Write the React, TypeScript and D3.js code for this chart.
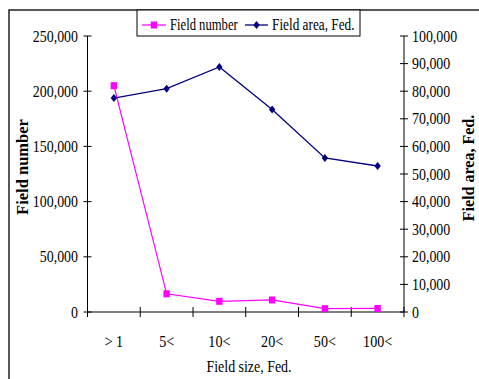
import React from "react";
import * as d3 from "d3";

const categories = ["> 1", "5<", "10<", "20<", "50<", "100<"];
const fieldNumber = [205000, 16500, 9700, 10900, 3000, 3200];
const fieldArea = [77500, 80900, 88800, 73400, 55800, 52900];
const leftTicks = [0, 50000, 100000, 150000, 200000, 250000];
const rightTicks = [0, 10000, 20000, 30000, 40000, 50000, 60000, 70000, 80000, 90000, 100000];

const W = 479;
const H = 379;
const FONT = "Liberation Serif, Times New Roman, Times, serif";
const PINK = "#FF00FF";
const NAVY = "#000080";

type TProps = {
  x: number;
  y: number;
  size: number;
  sx?: number;
  anchor?: "start" | "middle" | "end";
  rotate?: number;
  weight?: string;
  dy?: string;
  children: React.ReactNode;
};

function T({ x, y, size, sx = 1, anchor = "start", rotate = 0, weight = "normal", dy, children }: TProps) {
  return (
    <text
      transform={`translate(${x},${y}) rotate(${rotate}) scale(${sx},1)`}
      textAnchor={anchor}
      fontSize={size}
      fontWeight={weight}
      dy={dy}
      fill="#000"
    >
      {children}
    </text>
  );
}

export default function App() {
  const left = 87.5;
  const right = 404;
  const top = 36;
  const bottom = 312;

  const x = d3.scaleBand<string>().domain(categories).range([left, right]);
  const yL = d3.scaleLinear().domain([0, 250000]).range([bottom, top]);
  const yR = d3.scaleLinear().domain([0, 100000]).range([bottom, top]);
  const fmt = d3.format(",");
  const cx = (c: string) => (x(c) as number) + x.bandwidth() / 2;

  const lineL = d3
    .line<number>()
    .x((_, i) => cx(categories[i]))
    .y((d) => yL(d));
  const lineR = d3
    .line<number>()
    .x((_, i) => cx(categories[i]))
    .y((d) => yR(d));

  const boundaries = categories.map((c) => x(c) as number).concat([right]);

  const diamond = (px: number, py: number) =>
    `M${px},${py - 4} L${px + 3.2},${py} L${px},${py + 4} L${px - 3.2},${py} Z`;

  return (
    <svg
      width={W}
      height={H}
      style={{ position: "absolute", left: 0, top: 0, background: "#fff", fontFamily: FONT }}
    >
      <rect x={0} y={0} width={W} height={H} fill="#fff" />
      {/* outer frame */}
      <rect x={9} y={10} width={W} height={H} fill="none" stroke="#222" strokeWidth={1.5} />

      {/* left axis */}
      <line x1={left} x2={left} y1={top} y2={bottom} stroke="#000" strokeWidth={1} />
      {leftTicks.map((t) => (
        <g key={"l" + t}>
          <line x1={left - 4} x2={left + 4} y1={yL(t)} y2={yL(t)} stroke="#000" />
          <T x={78} y={yL(t)} dy="0.35em" anchor="end" size={16} sx={0.87}>
            {fmt(t)}
          </T>
        </g>
      ))}

      {/* right axis */}
      <line x1={right} x2={right} y1={top} y2={bottom} stroke="#000" strokeWidth={1} />
      {rightTicks.map((t) => (
        <g key={"r" + t}>
          <line x1={right - 4} x2={right + 4} y1={yR(t)} y2={yR(t)} stroke="#000" />
          <T x={412} y={yR(t)} dy="0.35em" anchor="start" size={16} sx={0.87}>
            {fmt(t)}
          </T>
        </g>
      ))}

      {/* x axis */}
      <line x1={left} x2={right} y1={bottom} y2={bottom} stroke="#000" strokeWidth={1.2} />
      {boundaries.map((b, i) => (
        <line key={"xt" + i} x1={b} x2={b} y1={bottom - 5} y2={bottom + 5} stroke="#000" />
      ))}
      {categories.map((c) => (
        <T key={"xl" + c} x={cx(c)} y={347} anchor="middle" size={16} sx={0.88}>
          {c}
        </T>
      ))}
      <T x={249} y={372} anchor="middle" size={16} sx={0.87}>
        Field size, Fed.
      </T>

      {/* axis titles */}
      <T x={28} y={167} rotate={-90} anchor="middle" size={16.5} weight="bold">
        Field number
      </T>
      <T x={474} y={168} rotate={-90} anchor="middle" size={16} weight="bold">
        Field area, Fed.
      </T>

      {/* series */}
      <path d={lineR(fieldArea) || ""} fill="none" stroke={NAVY} strokeWidth={1.3} />
      <path d={lineL(fieldNumber) || ""} fill="none" stroke={PINK} strokeWidth={1.2} />
      {fieldArea.map((v, i) => (
        <path key={"d" + i} d={diamond(cx(categories[i]), yR(v))} fill={NAVY} />
      ))}
      {fieldNumber.map((v, i) => (
        <rect
          key={"s" + i}
          x={cx(categories[i]) - 3.2}
          y={yL(v) - 3.5}
          width={6.4}
          height={7}
          fill={PINK}
        />
      ))}

      {/* legend */}
      <rect x={137} y={10} width={223} height={26} fill="#fff" stroke="#000" strokeWidth={1} />
      <line x1={142} x2={166} y1={25} y2={25} stroke={PINK} strokeWidth={1.2} />
      <rect x={150.8} y={21.5} width={6.4} height={7} fill={PINK} />
      <T x={170} y={30} size={16} sx={0.79}>
        Field number
      </T>
      <line x1={245} x2={268} y1={25} y2={25} stroke={NAVY} strokeWidth={1.3} />
      <path d={diamond(256.5, 25)} fill={NAVY} />
      <T x={272} y={30} size={16} sx={0.83}>
        Field area, Fed.
      </T>
    </svg>
  );
}
